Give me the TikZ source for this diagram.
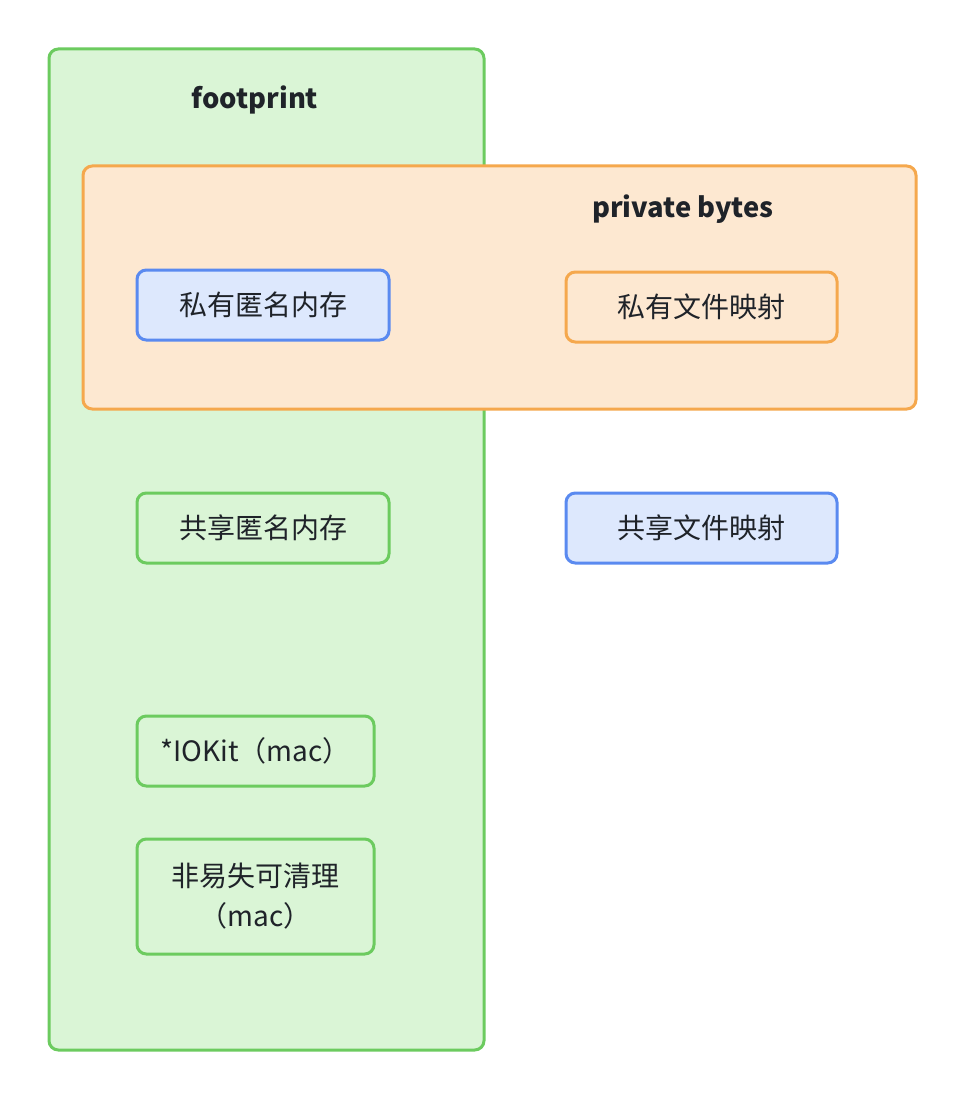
\documentclass[tikz,border=0pt]{standalone}
\usepackage{fontspec}
\setmainfont{Noto Sans CJK SC}
\usepackage{tikz}

\definecolor{grnline}{HTML}{6CCB5F}
\definecolor{grnfill}{HTML}{DAF5D6}
\definecolor{orgline}{HTML}{F5A84D}
\definecolor{orgfill}{HTML}{FDE8D1}
\definecolor{bluline}{HTML}{5A8AF0}
\definecolor{blufill}{HTML}{DDE8FD}
\definecolor{txt}{HTML}{1F2329}

\tikzset{
    memblock/.style={draw, line width=2.25pt, rounded corners=7pt, align=center,
        text=txt, font=\fontsize{21}{30}\selectfont, inner sep=0pt},
    greenblock/.style={memblock, draw=grnline, fill=grnfill},
    blueblock/.style={memblock, draw=bluline, fill=blufill},
    orangeblock/.style={memblock, draw=orgline, fill=orgfill},
    title/.style={text=txt, font=\fontsize{20.5}{24}\selectfont\bfseries}
}

\begin{document}
\begin{tikzpicture}[x=0.75pt, y=-0.75pt]
                        \useasboundingbox (0,0) rectangle (966,1102);
                        % footprint and private bytes regions
                        \draw [line width=2.25pt, rounded corners=7pt, draw=grnline, fill=grnfill] (49,49) rectangle (484,1050);
                        \draw [line width=2.25pt, rounded corners=7pt, draw=orgline, fill=orgfill] (83,166) rectangle (916,409);
                        \node (footprint) [title] at (255,100) {footprint};
                        \node (privbytes) [title] at (683,209) {private bytes};
                        % memory kinds
                        \node (privanon) [blueblock, minimum width=189pt, minimum height=52.5pt] at (263,305) {私有匿名内存};
                        \node (privfile) [orangeblock, minimum width=203.25pt, minimum height=52.5pt] at (701.5,307) {私有文件映射};
                        \node (shareanon) [greenblock, minimum width=189pt, minimum height=52.5pt] at (263,528) {共享匿名内存};
                        \node (sharefile) [blueblock, minimum width=203.25pt, minimum height=52.5pt] at (701.5,528) {共享文件映射};
                        \node (iokit) [greenblock, minimum width=177.75pt, minimum height=52.5pt] at (255.5,751) {*IOKit（mac）};
                        \node (purge) [greenblock, minimum width=177.75pt, minimum height=86.25pt] at (255.5,896.5) {非易失可清理\\（mac）};
                    \end{tikzpicture}
\end{document}
